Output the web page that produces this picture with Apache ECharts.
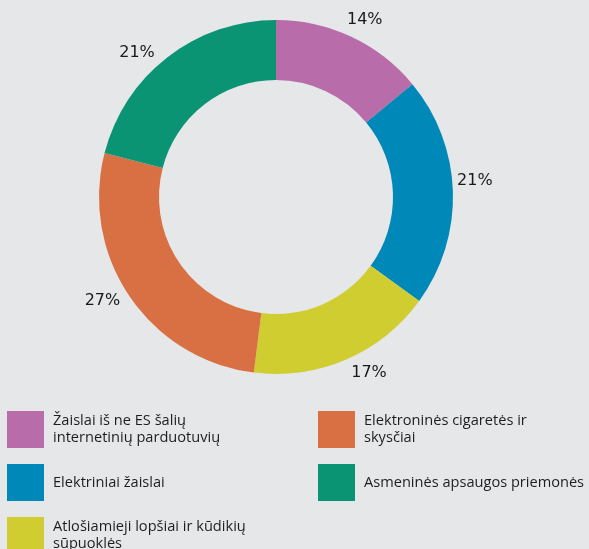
<!DOCTYPE html>
<html>
<head>
<meta charset="utf-8">
<script src="https://cdn.jsdelivr.net/npm/echarts@6/dist/echarts.min.js"></script>
<style>
html,body{margin:0;padding:0;background:#e6e7e9;}
#chart{width:589px;height:549px;}
</style>
</head>
<body>
<div id="chart"></div>
<script>
const categories = [
  "Žaislai iš ne ES šalių internetinių parduotuvių",
  "Elektriniai žaislai",
  "Atlošiamieji lopšiai ir kūdikių sūpuoklės",
  "Elektroninės cigaretės ir skysčiai",
  "Asmeninės apsaugos priemonės"
];
const values = [14, 21, 17, 27, 21];
const colors = ["#b86ca9", "#0088b9", "#cfcd30", "#d87044", "#0a9474"];
const legendLabels = {
  "Žaislai iš ne ES šalių internetinių parduotuvių": "Žaislai iš ne ES šalių\ninternetinių parduotuvių",
  "Elektriniai žaislai": "Elektriniai žaislai",
  "Atlošiamieji lopšiai ir kūdikių sūpuoklės": "Atlošiamieji lopšiai ir kūdikių\nsūpuoklės",
  "Elektroninės cigaretės ir skysčiai": "Elektroninės cigaretės ir\nskysčiai",
  "Asmeninės apsaugos priemonės": "Asmeninės apsaugos priemonės"
};
// small text nudges for the percentage labels (style only)
const labelNudge = [[4, 3], [0, -10], [14, -7], [-9, -8], [-17, 13]];

const font = "'Open Sans', 'Noto Sans', sans-serif";
const labelFont = "'DejaVu Sans', sans-serif";

const legendCommon = {
  orient: 'vertical',
  icon: 'rect',
  itemWidth: 37,
  itemHeight: 37,
  itemGap: 16,
  padding: 0,
  height: 300,
  selectedMode: false,
  formatter: n => legendLabels[n],
  textStyle: { fontFamily: font, fontSize: 14.6, color: '#1e1e1e', lineHeight: 16.5, padding: [0, 0, 0, 4] }
};

const chart = echarts.init(document.getElementById('chart'));
chart.setOption({
  backgroundColor: '#e6e7e9',
  animation: false,
  legend: [
    Object.assign({}, legendCommon, { left: 7, top: 411, data: [categories[0], categories[1], categories[2]] }),
    Object.assign({}, legendCommon, { left: 318, top: 411, data: [categories[3], categories[4]] })
  ],
  series: [
    {
      type: 'pie',
      center: [276, 197],
      radius: [117, 177],
      startAngle: 90,
      clockwise: true,
      silent: true,
      label: { show: false },
      labelLine: { show: false },
      data: categories.map((c, i) => ({ name: c, value: values[i], itemStyle: { color: colors[i] } }))
    },
    {
      type: 'pie',
      center: [276, 197],
      radius: [186, 206],
      startAngle: 90,
      clockwise: true,
      silent: true,
      legendHoverLink: false,
      itemStyle: { color: 'rgba(0,0,0,0)' },
      label: {
        show: true,
        position: 'inside',
        formatter: p => p.value + '%',
        fontFamily: labelFont,
        fontSize: 16,
        color: '#1a1a1a'
      },
      labelLine: { show: false },
      data: categories.map((c, i) => ({
        name: c + ' ',
        value: values[i],
        itemStyle: { color: 'rgba(0,0,0,0)' },
        label: { offset: labelNudge[i] }
      }))
    }
  ]
});
</script>
</body>
</html>
